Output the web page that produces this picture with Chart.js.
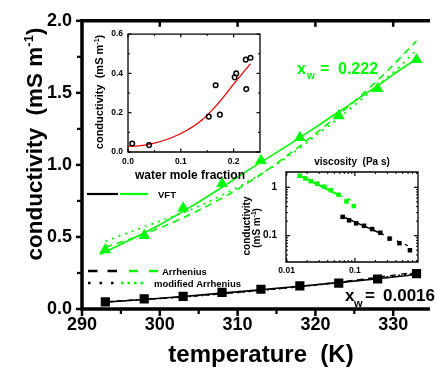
<!DOCTYPE html>
<html>
<head>
<meta charset="utf-8">
<script src="https://cdn.jsdelivr.net/npm/chart.js@4/dist/chart.umd.min.js"></script>
<style>
  html, body { margin: 0; padding: 0; background: #fff; overflow: hidden; }
  #wrap { position: relative; width: 435px; height: 373px; }
  #wrap canvas { position: absolute; }
</style>
</head>
<body>
<div id="wrap">
  <canvas id="main" width="435" height="373" style="left:0;top:0"></canvas>
  <canvas id="inset1" width="178" height="162" style="left:86px;top:24px"></canvas>
  <canvas id="inset2" width="199" height="130" style="left:236px;top:150px"></canvas>
</div>
<script>
const FONT = "'Liberation Sans', Arial, Helvetica, sans-serif";
const GREEN = '#00ff00';
const RED = '#ff0000';
const BLACK = '#000000';

// ---- main panel: conductivity (mS m-1) vs temperature (K) ----
const temperatures = [293, 298, 303, 308, 313, 318, 323, 328, 333];
const condHigh = [0.41, 0.51, 0.70, 0.87, 1.03, 1.19, 1.34, 1.53, 1.73];        // x_w = 0.222
const condLow  = [0.05, 0.07, 0.087, 0.115, 0.137, 0.16, 0.18, 0.208, 0.245];   // x_w = 0.0016

// fitted curves, x_w = 0.222
const vftHighT = [292.3, 296, 300, 304, 308, 312, 316, 320, 324, 328, 332, 333.3];
const vftHigh  = [0.38, 0.475, 0.585, 0.71, 0.845, 0.985, 1.12, 1.26, 1.405, 1.55, 1.70, 1.74];
const arrHighT = [293, 297, 301, 305, 309, 313, 317, 321, 325, 329, 333];
const arrHigh  = [0.43, 0.50, 0.585, 0.685, 0.80, 0.935, 1.09, 1.26, 1.44, 1.64, 1.86];
const modHighT = [293, 296, 300, 304, 308, 312, 316, 320, 324, 328, 331, 333];
const modHigh  = [0.47, 0.53, 0.61, 0.69, 0.79, 0.905, 1.04, 1.20, 1.37, 1.55, 1.69, 1.80];

// fitted curves, x_w = 0.0016
const vftLowT = [293, 298, 303, 308, 313, 318, 323, 328, 333.3];
const vftLow  = [0.048, 0.066, 0.087, 0.11, 0.134, 0.158, 0.183, 0.21, 0.242];
const arrLowT = [293, 303, 313, 323, 333.3];
const arrLow  = [0.05, 0.085, 0.13, 0.186, 0.258];
const modLowT = [293, 303, 313, 323, 333.3];
const modLow  = [0.049, 0.084, 0.129, 0.184, 0.25];

const tempTicks = [290, 300, 310, 320, 330];
const tempMinorTicks = [295, 305, 315, 325];
const condTicks = [0, 0.5, 1.0, 1.5, 2.0];
const condMinorTicks = [0.25, 0.75, 1.25, 1.75];

// ---- inset: room-temperature conductivity vs water mole fraction ----
const waterFraction = [0.008, 0.040, 0.153, 0.166, 0.174, 0.202, 0.205, 0.223, 0.224, 0.232];
const waterCond     = [0.043, 0.035, 0.18, 0.34, 0.19, 0.38, 0.40, 0.47, 0.32, 0.48];
const waterFitX = [0, 0.02, 0.05, 0.08, 0.11, 0.14, 0.17, 0.2, 0.232];
const waterFitY = [0.029, 0.031, 0.045, 0.07, 0.108, 0.163, 0.245, 0.345, 0.45];
const fractionTicks = [0, 0.1, 0.2];
const fractionMinorTicks = [0.05, 0.15];
const waterCondTicks = [0, 0.2, 0.4, 0.6];
const waterCondMinorTicks = [0.1, 0.3, 0.5];

// ---- inset: conductivity vs viscosity (log-log) ----
const viscHigh = [0.0155, 0.0187, 0.0226, 0.0281, 0.0357, 0.0443, 0.0577, 0.0752, 0.0967];
const viscLow  = [0.0662, 0.0822, 0.1045, 0.136, 0.179, 0.236, 0.322, 0.449, 0.64];
const viscFitHighX = [0.0155, 0.058];
const viscFitHighY = [1.76, 0.69];
const viscExtHighX = [0.058, 0.1];
const viscExtHighY = [0.69, 0.50];
const viscFitLowX = [0.066, 0.236];
const viscFitLowY = [0.25, 0.112];
const viscExtLowX = [0.236, 0.6];
const viscExtLowY = [0.112, 0.062];
const viscTicks = [0.01, 0.1];
const viscMinorTicks = [0.02, 0.03, 0.04, 0.05, 0.06, 0.07, 0.08, 0.09, 0.2, 0.3, 0.4, 0.5, 0.6, 0.7, 0.8];
const logCondTicks = [0.1, 1];
const logCondMinorTicks = [0.03, 0.04, 0.05, 0.06, 0.07, 0.08, 0.09, 0.2, 0.3, 0.4, 0.5, 0.6, 0.7, 0.8, 0.9, 2];

// ---------- helpers ----------
const pts = (xs, ys) => xs.map((x, i) => ({ x, y: ys[i] }));
const font = (size) => ({ family: FONT, size, weight: 'bold' });
const noGrid = { display: false, drawTicks: false };

function markers(xs, ys, style, radius, color, extra) {
  return Object.assign({
    data: pts(xs, ys), showLine: false, pointStyle: style, pointRadius: radius,
    pointBackgroundColor: color, pointBorderWidth: 0, pointHoverRadius: radius
  }, extra || {});
}
function curve(xs, ys, color, width, dash) {
  return {
    data: pts(xs, ys), showLine: true, pointRadius: 0, pointHoverRadius: 0,
    borderColor: color, borderWidth: width, borderDash: dash || [],
    cubicInterpolationMode: 'monotone', fill: false
  };
}

function frame(chart, sides, width) {
  const { ctx, chartArea: a } = chart;
  ctx.save();
  ctx.strokeStyle = BLACK; ctx.lineWidth = width; ctx.lineCap = 'square';
  ctx.beginPath();
  if (sides.includes('left'))   { ctx.moveTo(a.left, a.top);  ctx.lineTo(a.left, a.bottom); }
  if (sides.includes('bottom')) { ctx.moveTo(a.left, a.bottom); ctx.lineTo(a.right, a.bottom); }
  if (sides.includes('top'))    { ctx.moveTo(a.left, a.top);  ctx.lineTo(a.right, a.top); }
  if (sides.includes('right'))  { ctx.moveTo(a.right, a.top); ctx.lineTo(a.right, a.bottom); }
  ctx.stroke();
  ctx.restore();
}

// len > 0 points out of the frame, len < 0 points inside
function tickMarks(chart, specs) {
  const { ctx, chartArea: a, scales } = chart;
  ctx.save();
  ctx.strokeStyle = BLACK;
  for (const s of specs) {
    const sc = scales[s.axis];
    ctx.lineWidth = s.width;
    for (const v of s.values) {
      const p = sc.getPixelForValue(v);
      ctx.beginPath();
      if (s.side === 'bottom')     { ctx.moveTo(p, a.bottom); ctx.lineTo(p, a.bottom + s.len); }
      else if (s.side === 'top')   { ctx.moveTo(p, a.top);    ctx.lineTo(p, a.top - s.len); }
      else if (s.side === 'left')  { ctx.moveTo(a.left, p);   ctx.lineTo(a.left - s.len, p); }
      else                         { ctx.moveTo(a.right, p);  ctx.lineTo(a.right + s.len, p); }
      ctx.stroke();
    }
  }
  ctx.restore();
}

// a run of text pieces (for super/subscripts); align 'center' or 'left'; optional rotation
function richText(ctx, parts, x, y, opts) {
  opts = opts || {};
  ctx.save();
  ctx.translate(x, y);
  if (opts.rot) ctx.rotate(opts.rot);
  ctx.fillStyle = opts.color || BLACK;
  ctx.textBaseline = 'alphabetic';
  ctx.textAlign = 'left';
  let total = 0;
  for (const p of parts) { ctx.font = `bold ${p.size}px ${FONT}`; total += ctx.measureText(p.t).width; }
  let cx = opts.align === 'center' ? -total / 2 : 0;
  for (const p of parts) {
    ctx.font = `bold ${p.size}px ${FONT}`;
    ctx.fillText(p.t, cx, p.dy || 0);
    cx += ctx.measureText(p.t).width;
  }
  ctx.restore();
}
function text(ctx, t, x, y, size, color) {
  ctx.save();
  ctx.font = `bold ${size}px ${FONT}`;
  ctx.fillStyle = color || BLACK;
  ctx.textAlign = 'left'; ctx.textBaseline = 'alphabetic';
  ctx.fillText(t, x, y);
  ctx.restore();
}
function seg(ctx, x1, x2, y, color, width, dash) {
  ctx.save();
  ctx.strokeStyle = color; ctx.lineWidth = width; ctx.setLineDash(dash || []);
  ctx.beginPath(); ctx.moveTo(x1, y); ctx.lineTo(x2, y); ctx.stroke();
  ctx.restore();
}

function baseOptions(pad) {
  return {
    responsive: false, animation: false, devicePixelRatio: 1,
    layout: { padding: pad },
    plugins: { legend: { display: false }, tooltip: { enabled: false } },
    events: []
  };
}

// ---------- main chart ----------
const mainDecor = {
  id: 'mainDecor',
  afterDraw(chart) {
    const ctx = chart.ctx;
    frame(chart, ['left', 'bottom', 'top'], 3.5);
    tickMarks(chart, [
      { axis: 'x', side: 'bottom', values: tempTicks, len: 7, width: 2.5 },
      { axis: 'x', side: 'bottom', values: tempMinorTicks, len: 5, width: 2.2 },
      { axis: 'x', side: 'top', values: tempTicks, len: -6, width: 2.5 },
      { axis: 'y', side: 'left', values: condTicks, len: 6, width: 2.5 },
      { axis: 'y', side: 'left', values: condMinorTicks, len: 5, width: 2.2 }
    ]);
    // axis titles
    richText(ctx, [{ t: 'temperature  (K)', size: 24 }], 261, 362, { align: 'center' });
    richText(ctx, [
      { t: 'conductivity  (mS m', size: 22.5 },
      { t: '-1', size: 13, dy: -9 },
      { t: ')', size: 22.5 }
    ], 42, 144, { align: 'center', rot: -Math.PI / 2 });
    // legend
    seg(ctx, 87, 118, 194, BLACK, 2.2);
    seg(ctx, 120, 148, 194, GREEN, 2.2);
    text(ctx, 'VFT', 158, 197.5, 9.5);
    seg(ctx, 88, 118, 271, BLACK, 2.6, [9.5, 10]);
    seg(ctx, 129, 160, 271, GREEN, 2.6, [9, 11]);
    text(ctx, 'Arrhenius', 162, 274.5, 9.5);
    seg(ctx, 88, 117, 283, BLACK, 2.6, [2.5, 9]);
    seg(ctx, 121, 143, 283, GREEN, 2.6, [2.5, 4]);
    text(ctx, 'modified Arrhenius', 154, 286.5, 9.5);
    // series annotations
    text(ctx, 'x', 297, 74, 16, GREEN);
    text(ctx, 'w', 307, 79, 10, GREEN);
    text(ctx, '=', 320, 74, 16, GREEN);
    text(ctx, '0.222', 338, 74, 16, GREEN);
    text(ctx, 'x', 345, 301, 17);
    text(ctx, 'w', 354, 306.5, 11);
    text(ctx, '=', 365, 301, 17);
    text(ctx, '0.0016', 383, 301, 17);
  }
};

new Chart(document.getElementById('main'), {
  type: 'scatter',
  data: {
    datasets: [
      markers(temperatures, condHigh, 'triangle', 6.8, GREEN),
      markers(temperatures, condLow, 'rect', 6.5, BLACK),
      curve(vftHighT, vftHigh, GREEN, 1.6),
      curve(arrHighT, arrHigh, GREEN, 1.6, [7, 5]),
      curve(modHighT, modHigh, GREEN, 1.8, [2, 5]),
      curve(vftLowT, vftLow, BLACK, 1.6),
      curve(arrLowT, arrLow, BLACK, 1.4, [6, 5]),
      curve(modLowT, modLow, BLACK, 1.6, [2, 4])
    ]
  },
  options: Object.assign(baseOptions({ top: 20, right: 0, left: 0, bottom: 0 }), {
    scales: {
      x: {
        type: 'linear', min: 290, max: 334.5,
        grid: noGrid, border: { display: false },
        afterFit: (s) => { s.height = 64; },
        afterBuildTicks: (s) => { s.ticks = tempTicks.map(v => ({ value: v })); },
        ticks: { font: font(18), color: BLACK, padding: 5, maxRotation: 0, autoSkip: false,
                 callback: (v) => String(v) }
      },
      y: {
        type: 'linear', min: 0, max: 2,
        grid: noGrid, border: { display: false },
        afterFit: (s) => { s.width = 82; },
        afterBuildTicks: (s) => { s.ticks = condTicks.map(v => ({ value: v })); },
        ticks: { font: font(18), color: BLACK, padding: 10, autoSkip: false,
                 callback: (v) => Number(v).toFixed(1) }
      }
    }
  }),
  plugins: [mainDecor]
});

// ---------- inset: water mole fraction ----------
const inset1Decor = {
  id: 'inset1Decor',
  afterDraw(chart) {
    const ctx = chart.ctx;
    frame(chart, ['left', 'bottom', 'top', 'right'], 1.3);
    tickMarks(chart, [
      { axis: 'x', side: 'bottom', values: fractionTicks, len: -3.5, width: 1.2 },
      { axis: 'x', side: 'bottom', values: fractionMinorTicks, len: -2, width: 1 },
      { axis: 'x', side: 'top', values: fractionTicks, len: -3.5, width: 1.2 },
      { axis: 'x', side: 'top', values: fractionMinorTicks, len: -2, width: 1 },
      { axis: 'y', side: 'left', values: waterCondTicks, len: -3.5, width: 1.2 },
      { axis: 'y', side: 'left', values: waterCondMinorTicks, len: -2, width: 1 },
      { axis: 'y', side: 'right', values: waterCondTicks, len: -3.5, width: 1.2 },
      { axis: 'y', side: 'right', values: waterCondMinorTicks, len: -2, width: 1 }
    ]);
    // canvas origin is at (86, 24) on the page
    richText(ctx, [{ t: 'water mole fraction', size: 12 }], 190 - 86, 179 - 24, { align: 'center' });
    richText(ctx, [
      { t: 'conductivity  (mS m', size: 11 },
      { t: '-1', size: 7, dy: -4.5 },
      { t: ')', size: 11 }
    ], 103 - 86, 92 - 24, { align: 'center', rot: -Math.PI / 2 });
  }
};

new Chart(document.getElementById('inset1'), {
  type: 'scatter',
  data: {
    datasets: [
      markers(waterFraction, waterCond, 'circle', 2.3, 'rgba(0,0,0,0)',
              { pointBorderColor: BLACK, pointBorderWidth: 1.5 }),
      curve(waterFitX, waterFitY, RED, 1.3)
    ]
  },
  options: Object.assign(baseOptions({ top: 8, right: 4, left: 0, bottom: 0 }), {
    scales: {
      x: {
        type: 'linear', min: 0, max: 0.25,
        grid: noGrid, border: { display: false },
        afterFit: (s) => { s.height = 34; },
        afterBuildTicks: (s) => { s.ticks = fractionTicks.map(v => ({ value: v })); },
        ticks: { font: font(8.5), color: BLACK, padding: 5, maxRotation: 0, autoSkip: false,
                 callback: (v) => Number(v).toFixed(1) }
      },
      y: {
        type: 'linear', min: 0, max: 0.6,
        grid: noGrid, border: { display: false },
        afterFit: (s) => { s.width = 42; },
        afterBuildTicks: (s) => { s.ticks = waterCondTicks.map(v => ({ value: v })); },
        ticks: { font: font(8.5), color: BLACK, padding: 5, autoSkip: false,
                 callback: (v) => Number(v).toFixed(1) }
      }
    }
  }),
  plugins: [inset1Decor]
});

// ---------- inset: viscosity (log-log) ----------
const inset2Decor = {
  id: 'inset2Decor',
  afterDraw(chart) {
    const ctx = chart.ctx;
    frame(chart, ['left', 'bottom', 'top', 'right'], 1.3);
    tickMarks(chart, [
      { axis: 'x', side: 'bottom', values: viscTicks, len: -4, width: 1.2 },
      { axis: 'x', side: 'bottom', values: viscMinorTicks, len: -2, width: 1 },
      { axis: 'x', side: 'top', values: viscTicks, len: -4, width: 1.2 },
      { axis: 'x', side: 'top', values: viscMinorTicks, len: -2, width: 1 },
      { axis: 'y', side: 'left', values: logCondTicks, len: -4, width: 1.2 },
      { axis: 'y', side: 'left', values: logCondMinorTicks, len: -2, width: 1 },
      { axis: 'y', side: 'right', values: logCondTicks, len: -4, width: 1.2 },
      { axis: 'y', side: 'right', values: logCondMinorTicks, len: -2, width: 1 }
    ]);
    // canvas origin is at (236, 150) on the page
    richText(ctx, [{ t: 'viscosity  (Pa s)', size: 10 }], 352 - 236, 165 - 150, { align: 'center' });
    richText(ctx, [{ t: 'conductivity', size: 10 }], 250 - 236, 226 - 150,
             { align: 'center', rot: -Math.PI / 2 });
    richText(ctx, [
      { t: '(mS m', size: 10 },
      { t: '-1', size: 6.5, dy: -4 },
      { t: ')', size: 10 }
    ], 259.5 - 236, 228 - 150, { align: 'center', rot: -Math.PI / 2 });
  }
};

new Chart(document.getElementById('inset2'), {
  type: 'scatter',
  data: {
    datasets: [
      markers(viscHigh, condHigh.slice().reverse(), 'rect', 3.2, GREEN),
      markers(viscLow, condLow.slice().reverse(), 'rect', 3.2, BLACK),
      curve(viscFitHighX, viscFitHighY, GREEN, 2),
      curve(viscExtHighX, viscExtHighY, GREEN, 1.5, [4, 5]),
      curve(viscFitLowX, viscFitLowY, BLACK, 1.6),
      curve(viscExtLowX, viscExtLowY, BLACK, 1.2, [4, 5])
    ]
  },
  options: Object.assign(baseOptions({ top: 22, right: 17, left: 0, bottom: 0 }), {
    scales: {
      x: {
        type: 'logarithmic', min: 0.0098, max: 0.84,
        grid: noGrid, border: { display: false },
        afterFit: (s) => { s.height = 18; },
        afterBuildTicks: (s) => { s.ticks = viscTicks.map(v => ({ value: v })); },
        ticks: { font: font(8.5), color: BLACK, padding: 4, maxRotation: 0, autoSkip: false,
                 callback: (v) => String(v) }
      },
      y: {
        type: 'logarithmic', min: 0.0286, max: 2.07,
        grid: noGrid, border: { display: false },
        afterFit: (s) => { s.width = 50; },
        afterBuildTicks: (s) => { s.ticks = logCondTicks.map(v => ({ value: v })); },
        ticks: { font: font(10), color: BLACK, padding: 9, autoSkip: false,
                 callback: (v) => String(v) }
      }
    }
  }),
  plugins: [inset2Decor]
});
</script>
</body>
</html>
